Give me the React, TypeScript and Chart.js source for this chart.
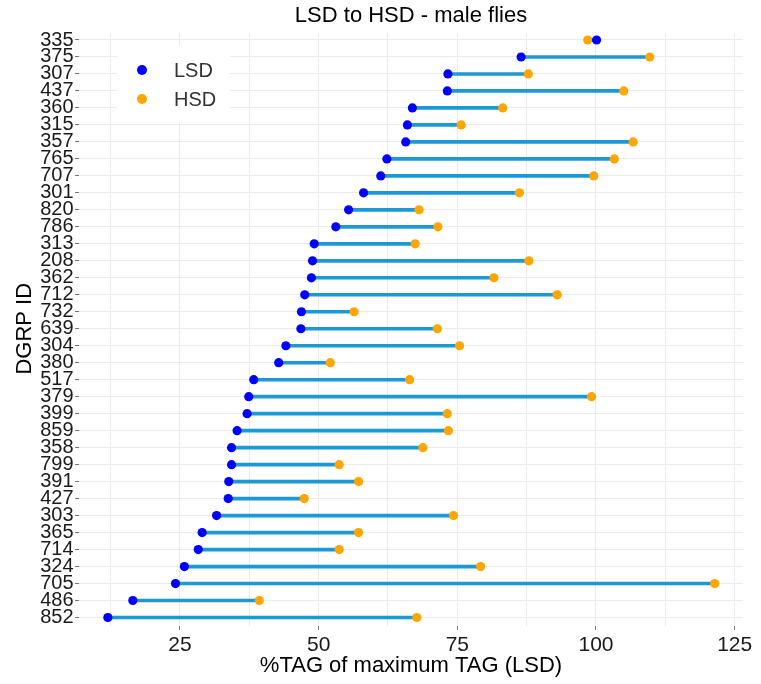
import React, { useEffect, useRef } from "react";
import { Chart, registerables } from "chart.js";

Chart.register(...registerables);

const FONT = "'Liberation Sans', Arial, sans-serif";

const dgrpIds = [
  "335", "375", "307", "437", "360", "315", "357", "765", "707", "301",
  "820", "786", "313", "208", "362", "712", "732", "639", "304", "380",
  "517", "379", "399", "859", "358", "799", "391", "427", "303", "365",
  "714", "324", "705", "486", "852",
];

const lsdValues = [
  100.1, 86.5, 73.3, 73.2, 66.9, 66.0, 65.7, 62.3, 61.2, 58.1,
  55.4, 53.1, 49.2, 48.9, 48.7, 47.5, 46.9, 46.8, 44.1, 42.8,
  38.3, 37.4, 37.1, 35.3, 34.3, 34.3, 33.8, 33.7, 31.6, 29.0,
  28.3, 25.8, 24.2, 16.5, 12.0,
];

const hsdValues = [
  98.5, 109.7, 87.8, 105.0, 83.2, 75.7, 106.7, 103.3, 99.6, 86.2,
  68.1, 71.5, 67.4, 87.9, 81.6, 93.0, 56.4, 71.4, 75.4, 52.1,
  66.4, 99.2, 73.2, 73.4, 68.8, 53.7, 57.2, 47.4, 74.3, 57.2,
  53.7, 79.2, 121.4, 39.3, 67.7,
];

const xGridValues = [12.5, 25, 37.5, 50, 62.5, 75, 87.5, 100, 112.5, 125];
const xLabelValues = [25, 50, 75, 100, 125];

const seriesNames = ["LSD", "HSD"];
const seriesColors = ["#0000ff", "#ffa500"];
const segmentColor = "#1a99d5";

const insetLegend = {
  id: "insetLegend",
  afterDatasetsDraw(chart: any) {
    const { ctx, chartArea } = chart;
    const bx = chartArea.left + 38;
    const by = chartArea.top + 14;
    ctx.save();
    ctx.fillStyle = "#ffffff";
    ctx.fillRect(bx, by, 113, 77);
    seriesNames.forEach((name, i) => {
      const cy = by + 24.5 + i * 29;
      ctx.beginPath();
      ctx.fillStyle = seriesColors[i];
      ctx.arc(bx + 25, cy, 5, 0, Math.PI * 2);
      ctx.fill();
      ctx.fillStyle = "#333333";
      ctx.font = `20px ${FONT}`;
      ctx.textAlign = "left";
      ctx.textBaseline = "middle";
      ctx.fillText(name, bx + 57, cy + 1);
    });
    ctx.restore();
  },
};

export default function App() {
  const canvasRef = useRef<HTMLCanvasElement | null>(null);

  useEffect(() => {
    document.body.style.margin = "0";
    const canvas = canvasRef.current;
    if (!canvas) return;

    const chart = new Chart(canvas, {
      type: "bar",
      data: {
        labels: dgrpIds,
        datasets: [
          {
            type: "line",
            label: seriesNames[0],
            data: lsdValues,
            showLine: false,
            pointRadius: 4.6,
            pointBorderWidth: 0,
            pointBackgroundColor: seriesColors[0],
            borderColor: seriesColors[0],
            backgroundColor: seriesColors[0],
            order: 1,
          } as any,
          {
            type: "line",
            label: seriesNames[1],
            data: hsdValues,
            showLine: false,
            pointRadius: 4.6,
            pointBorderWidth: 0,
            pointBackgroundColor: seriesColors[1],
            borderColor: seriesColors[1],
            backgroundColor: seriesColors[1],
            order: 2,
          } as any,
          {
            type: "bar",
            label: "segment",
            data: dgrpIds.map((_, i) => [lsdValues[i], hsdValues[i]]),
            backgroundColor: segmentColor,
            borderWidth: 0,
            borderSkipped: false,
            barThickness: 3,
            order: 3,
          } as any,
        ],
      },
      options: {
        indexAxis: "y",
        animation: false,
        responsive: false,
        maintainAspectRatio: false,
        devicePixelRatio: 1,
        layout: { padding: { top: 0, right: 18, bottom: 0, left: 0 } },
        plugins: {
          legend: { display: false },
          tooltip: { enabled: false },
          title: {
            display: true,
            text: "LSD to HSD - male flies",
            fullSize: false,
            color: "#000000",
            font: { family: FONT, size: 22, weight: "normal", lineHeight: 1 },
            padding: { top: 4.5, bottom: 5 },
          },
        },
        scales: {
          x: {
            type: "linear",
            min: 6.8,
            max: 126.5,
            afterBuildTicks: (scale: any) => {
              scale.ticks = xGridValues.map((v) => ({ value: v }));
            },
            afterFit: (scale: any) => {
              scale.height = 58;
            },
            border: { display: false },
            grid: {
              color: "#ebebeb",
              lineWidth: 1,
              tickLength: 4,
              tickColor: (ctx: any) =>
                ctx.tick && xLabelValues.includes(ctx.tick.value) ? "#777777" : "rgba(0,0,0,0)",
            },
            ticks: {
              autoSkip: false,
              maxRotation: 0,
              padding: 3,
              color: "#1a1a1a",
              font: { family: FONT, size: 21 },
              callback: (v: any) => (xLabelValues.includes(Number(v)) ? String(v) : ""),
            },
            title: {
              display: true,
              text: "%TAG of maximum TAG (LSD)",
              color: "#000000",
              font: { family: FONT, size: 22 },
              padding: { top: 0, bottom: 5 },
            },
          },
          y: {
            type: "category",
            offset: true,
            afterFit: (scale: any) => {
              scale.width = 79;
            },
            border: { display: false },
            grid: {
              offset: false,
              color: "#ebebeb",
              lineWidth: 1,
              tickLength: 4,
              tickColor: "#777777",
            },
            ticks: {
              autoSkip: false,
              padding: 1.5,
              color: "#1a1a1a",
              font: { family: FONT, size: 20 },
            },
            title: {
              display: true,
              text: "DGRP ID",
              color: "#000000",
              font: { family: FONT, size: 22 },
              padding: { top: 11.3, bottom: 0 },
            },
          },
        },
      },
      plugins: [insetLegend],
    });

    return () => chart.destroy();
  }, []);

  return (
    <div style={{ width: 761, height: 684, background: "#ffffff" }}>
      <canvas ref={canvasRef} width={761} height={684} />
    </div>
  );
}
